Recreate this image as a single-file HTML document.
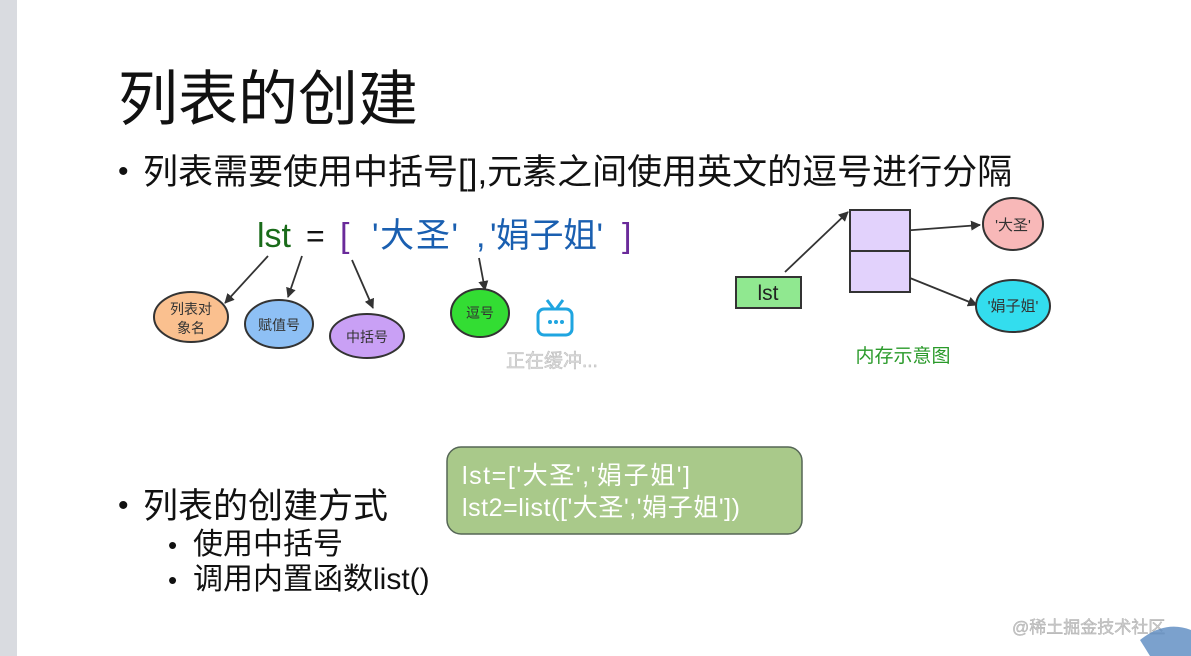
<!DOCTYPE html>
<html><head><meta charset="utf-8"><style>
body{margin:0;width:1191px;height:656px;background:#fff;position:relative;overflow:hidden;font-family:"Liberation Sans","Noto Sans CJK SC",sans-serif}
.a{position:absolute;white-space:nowrap;line-height:1}
</style></head><body>
<div class="a" style="left:0;top:0;width:17px;height:656px;background:#d9dbe0"></div>
<div class="a" style="left:118px;top:70px;font-size:60px;color:#111">列表的创建</div>
<div class="a" style="left:118px;top:157px;font-size:30px;color:#111">•</div>
<div class="a" style="left:143px;top:155px;font-size:35px;color:#111">列表需要使用中括号[],元素之间使用英文的逗号进行分隔</div>
<div class="a" style="left:118px;top:491px;font-size:30px;color:#111">•</div>
<div class="a" style="left:143px;top:489px;font-size:35px;color:#111">列表的创建方式</div>
<div class="a" style="left:168px;top:532px;font-size:26px;color:#111">•</div>
<div class="a" style="left:193px;top:530px;font-size:30px;color:#111">使用中括号</div>
<div class="a" style="left:168px;top:567px;font-size:26px;color:#111">•</div>
<div class="a" style="left:193px;top:565px;font-size:30px;color:#111">调用内置函数list()</div>
<svg class="a" style="left:0;top:0" width="1191" height="656">
<defs><marker id="m" markerWidth="10" markerHeight="10" refX="9" refY="5" orient="auto" markerUnits="userSpaceOnUse"><path d="M0,0 L10,5 L0,10z" fill="#333"/></marker></defs>
<g font-family="Liberation Sans,Noto Sans CJK SC,sans-serif">
<text x="257" y="247" font-size="34" fill="#1a6b1a">lst</text>
<text x="306" y="247" font-size="32" fill="#111">=</text>
<text x="340" y="247" font-size="34" fill="#6a2a9a">[</text>
<text x="372" y="247" font-size="34" fill="#1a5fb0" textLength="86">'大圣'</text>
<text x="476" y="247" font-size="34" fill="#1a5fb0">,</text>
<text x="490" y="247" font-size="34" fill="#1a5fb0" textLength="113">'娟子姐'</text>
<text x="622" y="247" font-size="34" fill="#6a2a9a">]</text>
<g stroke="#333" stroke-width="1.8" marker-end="url(#m)">
<line x1="268" y1="256" x2="225" y2="303"/><line x1="302" y1="256" x2="288" y2="297"/>
<line x1="352" y1="260" x2="373" y2="308"/><line x1="479" y1="258" x2="485" y2="290"/>
<line x1="785" y1="272" x2="848" y2="212"/><line x1="900" y1="231" x2="980" y2="225"/>
<line x1="900" y1="274" x2="977" y2="305"/>
</g>
<g stroke="#333" stroke-width="2">
<ellipse cx="191" cy="317" rx="37" ry="25" fill="#fac08f"/>
<ellipse cx="279" cy="324" rx="34" ry="24" fill="#8ec0f5"/>
<ellipse cx="367" cy="336" rx="37" ry="22" fill="#c9a0f5"/>
<ellipse cx="480" cy="313" rx="29" ry="24" fill="#33dd33"/>
<ellipse cx="1013" cy="224" rx="30" ry="26" fill="#f8b8b8"/>
<ellipse cx="1013" cy="306" rx="37" ry="26" fill="#33ddee"/>
</g>
<g font-size="14" fill="#333" text-anchor="middle">
<text x="191" y="314">列表对</text><text x="191" y="333">象名</text>
<text x="279" y="330">赋值号</text><text x="367" y="342">中括号</text>
<text x="480" y="318">逗号</text>
<text x="1013" y="230" font-size="15">'大圣'</text><text x="1013" y="311" font-size="15">'娟子姐'</text>
</g>
<rect x="538" y="309" width="34" height="26" rx="6" fill="none" stroke="#1fa5e0" stroke-width="3"/>
<line x1="547" y1="300" x2="553" y2="308" stroke="#1fa5e0" stroke-width="3"/><line x1="563" y1="300" x2="557" y2="308" stroke="#1fa5e0" stroke-width="3"/>
<circle cx="550" cy="322" r="2" fill="#1fa5e0"/><circle cx="556" cy="322" r="2" fill="#1fa5e0"/><circle cx="562" cy="322" r="2" fill="#1fa5e0"/>
<text x="506" y="367" font-size="19" fill="#ddd" stroke="#bbb" stroke-width="0.5">正在缓冲...</text>
<rect x="736" y="277" width="65" height="31" fill="#90e890" stroke="#333" stroke-width="2"/>
<text x="768" y="300" font-size="21" fill="#222" text-anchor="middle">lst</text>
<rect x="850" y="210" width="60" height="82" fill="#e2d2fc" stroke="#333" stroke-width="2"/>
<line x1="850" y1="251" x2="910" y2="251" stroke="#333" stroke-width="2"/>
<text x="903" y="362" font-size="19" fill="#2a9a2a" text-anchor="middle">内存示意图</text>
<rect x="447" y="447" width="355" height="87" rx="14" fill="#a9c98a" stroke="#556655" stroke-width="1.5"/>
<text x="462" y="484" font-size="25" fill="#fff" textLength="228">lst=['大圣','娟子姐']</text>
<text x="462" y="516" font-size="25" fill="#fff" textLength="278">lst2=list(['大圣','娟子姐'])</text>
<text x="1012" y="633" font-size="17" fill="#ccc" stroke="#aaa" stroke-width="0.4">@稀土掘金技术社区</text>
<path d="M1140,640 Q1165,620 1191,630 L1191,656 L1150,656z" fill="#5a8ac0" opacity="0.8"/>
</g></svg>
</body></html>
